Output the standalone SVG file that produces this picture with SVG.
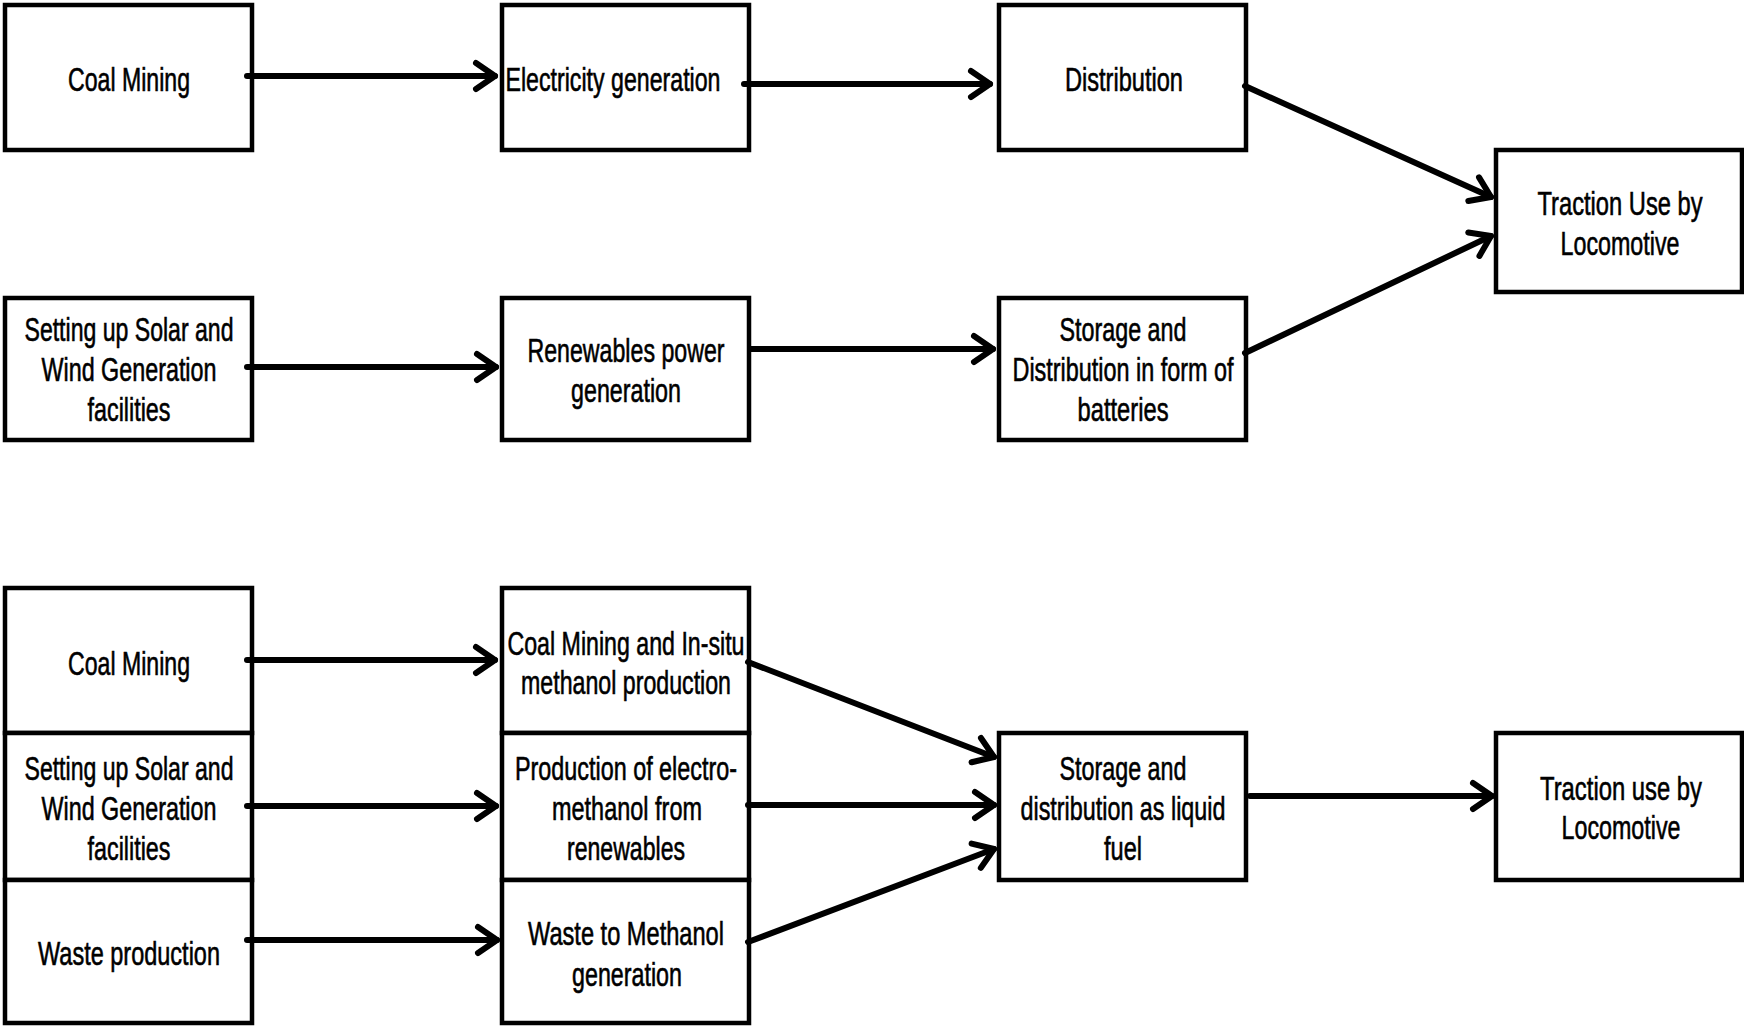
<svg xmlns="http://www.w3.org/2000/svg" width="1744" height="1027" viewBox="0 0 1744 1027">
<style>
.box{fill:#fff;stroke:#000;stroke-width:4.5}
.t{font-family:"Liberation Sans",Arial,sans-serif;font-size:33px;fill:#000;stroke:#000;stroke-width:0.6;text-anchor:middle}
.c{fill:none;stroke:#000;stroke-width:6;stroke-linecap:round}
</style>
<defs>
<marker id="ah" viewBox="-26 -18 30 36" refX="0" refY="0" markerWidth="30" markerHeight="36" markerUnits="userSpaceOnUse" orient="auto">
<path d="M-19,-13 L0,0 L-19,13" fill="none" stroke="#000" stroke-width="6" stroke-linecap="round" stroke-linejoin="round"/>
</marker>
</defs>
<rect width="1744" height="1027" fill="#fff"/>
<g id="n1"><rect class="box" x="5" y="5" width="247" height="145"/><text class="t" x="129" y="91" textLength="122" lengthAdjust="spacingAndGlyphs">Coal Mining</text></g>
<g id="n2"><rect class="box" x="502" y="5" width="247" height="145"/><text class="t" x="613" y="91" textLength="215" lengthAdjust="spacingAndGlyphs">Electricity generation</text></g>
<g id="n3"><rect class="box" x="999" y="5" width="247" height="145"/><text class="t" x="1124" y="91" textLength="118" lengthAdjust="spacingAndGlyphs">Distribution</text></g>
<g id="n4"><rect class="box" x="1496" y="150" width="246" height="142"/><text class="t" x="1620" y="215" textLength="165" lengthAdjust="spacingAndGlyphs">Traction Use by</text><text class="t" x="1620" y="255" textLength="119" lengthAdjust="spacingAndGlyphs">Locomotive</text></g>
<g id="n5"><rect class="box" x="5" y="298" width="247" height="142"/><text class="t" x="129" y="341" textLength="209" lengthAdjust="spacingAndGlyphs">Setting up Solar and</text><text class="t" x="129" y="381" textLength="175" lengthAdjust="spacingAndGlyphs">Wind Generation</text><text class="t" x="129" y="421" textLength="83" lengthAdjust="spacingAndGlyphs">facilities</text></g>
<g id="n6"><rect class="box" x="502" y="298" width="247" height="142"/><text class="t" x="626" y="362" textLength="197" lengthAdjust="spacingAndGlyphs">Renewables power</text><text class="t" x="626" y="402" textLength="110" lengthAdjust="spacingAndGlyphs">generation</text></g>
<g id="n7"><rect class="box" x="999" y="298" width="247" height="142"/><text class="t" x="1123" y="341" textLength="127" lengthAdjust="spacingAndGlyphs">Storage and</text><text class="t" x="1123" y="381" textLength="221" lengthAdjust="spacingAndGlyphs">Distribution in form of</text><text class="t" x="1123" y="421" textLength="91" lengthAdjust="spacingAndGlyphs">batteries</text></g>
<g id="n8"><rect class="box" x="5" y="588" width="247" height="145"/><text class="t" x="129" y="675" textLength="122" lengthAdjust="spacingAndGlyphs">Coal Mining</text></g>
<g id="n9"><rect class="box" x="5" y="733" width="247" height="147"/><text class="t" x="129" y="780" textLength="209" lengthAdjust="spacingAndGlyphs">Setting up Solar and</text><text class="t" x="129" y="820" textLength="175" lengthAdjust="spacingAndGlyphs">Wind Generation</text><text class="t" x="129" y="860" textLength="83" lengthAdjust="spacingAndGlyphs">facilities</text></g>
<g id="n10"><rect class="box" x="5" y="880" width="247" height="143"/><text class="t" x="129" y="965" textLength="182" lengthAdjust="spacingAndGlyphs">Waste production</text></g>
<g id="n11"><rect class="box" x="502" y="588" width="247" height="145"/><text class="t" x="626" y="655" textLength="237" lengthAdjust="spacingAndGlyphs">Coal Mining and In-situ</text><text class="t" x="626" y="694" textLength="210" lengthAdjust="spacingAndGlyphs">methanol production</text></g>
<g id="n12"><rect class="box" x="502" y="733" width="247" height="147"/><text class="t" x="626" y="780" textLength="222" lengthAdjust="spacingAndGlyphs">Production of electro-</text><text class="t" x="627" y="820" textLength="150" lengthAdjust="spacingAndGlyphs">methanol from</text><text class="t" x="626" y="860" textLength="118" lengthAdjust="spacingAndGlyphs">renewables</text></g>
<g id="n13"><rect class="box" x="502" y="880" width="247" height="143"/><text class="t" x="626" y="945" textLength="196" lengthAdjust="spacingAndGlyphs">Waste to Methanol</text><text class="t" x="627" y="986" textLength="110" lengthAdjust="spacingAndGlyphs">generation</text></g>
<g id="n14"><rect class="box" x="999" y="733" width="247" height="147"/><text class="t" x="1123" y="780" textLength="127" lengthAdjust="spacingAndGlyphs">Storage and</text><text class="t" x="1123" y="820" textLength="205" lengthAdjust="spacingAndGlyphs">distribution as liquid</text><text class="t" x="1123" y="860" textLength="38" lengthAdjust="spacingAndGlyphs">fuel</text></g>
<g id="n15"><rect class="box" x="1496" y="733" width="246" height="147"/><text class="t" x="1621" y="800" textLength="162" lengthAdjust="spacingAndGlyphs">Traction use by</text><text class="t" x="1621" y="839" textLength="119" lengthAdjust="spacingAndGlyphs">Locomotive</text></g>
<g id="connectors">
<line class="c" x1="247" y1="76" x2="495" y2="76" marker-end="url(#ah)"/>
<line class="c" x1="744" y1="84" x2="990" y2="84" marker-end="url(#ah)"/>
<line class="c" x1="1245" y1="86" x2="1491" y2="197" marker-end="url(#ah)"/>
<line class="c" x1="1245" y1="353" x2="1491" y2="236" marker-end="url(#ah)"/>
<line class="c" x1="247" y1="367" x2="496" y2="367" marker-end="url(#ah)"/>
<line class="c" x1="751" y1="349" x2="993" y2="349" marker-end="url(#ah)"/>
<line class="c" x1="247" y1="660" x2="495" y2="660" marker-end="url(#ah)"/>
<line class="c" x1="247" y1="806" x2="496" y2="806" marker-end="url(#ah)"/>
<line class="c" x1="247" y1="940" x2="497" y2="940" marker-end="url(#ah)"/>
<line class="c" x1="748" y1="662" x2="994" y2="757" marker-end="url(#ah)"/>
<line class="c" x1="748" y1="805" x2="994" y2="805" marker-end="url(#ah)"/>
<line class="c" x1="748" y1="942" x2="994" y2="849" marker-end="url(#ah)"/>
<line class="c" x1="1250" y1="796" x2="1492" y2="796" marker-end="url(#ah)"/>
</g>
</svg>
